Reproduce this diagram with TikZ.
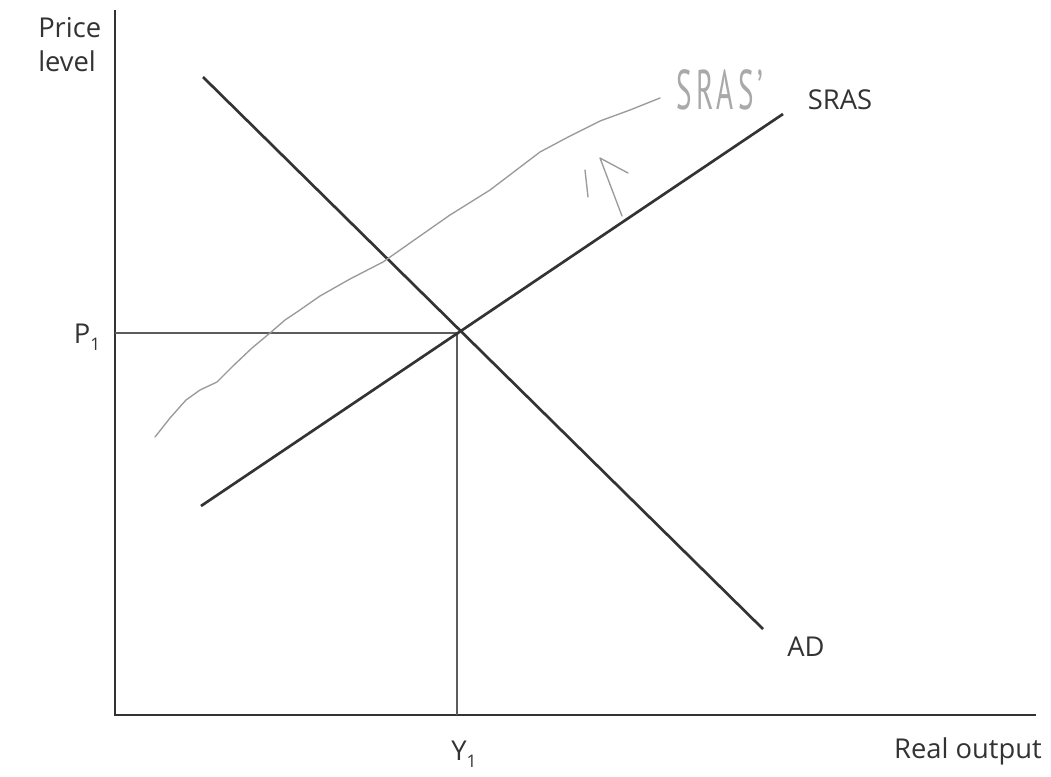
\documentclass[tikz,border=0pt]{standalone}
\usepackage{fontspec}
\setmainfont{Open Sans}
\newfontfamily\handfont{PT Sans}
\definecolor{ink}{HTML}{333333}
\definecolor{pencil}{HTML}{9A9A9A}
\newcommand{\lowsub}[1]{\raisebox{-0.45ex}{\fontsize{13}{13}\selectfont #1}}
\begin{document}
\begin{tikzpicture}[x=0.75pt,y=-0.75pt,
  axis/.style={draw=ink,line width=2.2pt},
  curve/.style={draw=ink,line width=2pt},
  guide/.style={draw=ink!80,line width=1.2pt},
  hand/.style={draw=pencil,line width=1pt,line cap=round,line join=round},
  lbl/.style={text=ink,font=\fontsize{20.5}{26}\selectfont,inner sep=0pt}]
\useasboundingbox (0,0) rectangle (1051,776);
\fill[white] (0,0) rectangle (1051,776);
% axes
\coordinate (O) at (115,715);
\coordinate (ytop) at (115,10);
\coordinate (xend) at (1036,715);
\draw[axis] (ytop) -- (O) -- (xend);
% curves
\coordinate (ad1) at (203,77);
\coordinate (ad2) at (763,629);
\coordinate (s1) at (201,506);
\coordinate (s2) at (783,114);
\coordinate (E) at (457,333);
\coordinate (p1ax) at (115,333);
\coordinate (y1ax) at (457,715);
\draw[guide] (p1ax) -- (E) -- (y1ax);
\draw[curve] (ad1) -- (ad2);
\draw[curve] (s1) -- (s2);
% hand-drawn SRAS'
\draw[hand] (155,437) -- (170,418) -- (186,400) -- (200,390) -- (217,382) -- (233,366) -- (252,348) -- (270,333) -- (285,320) -- (297,312) -- (320,296) -- (350,279) -- (383,262) -- (410,243) -- (450,215) -- (490,190) -- (540,152) -- (570,136) -- (600,121) -- (630,110) -- (660,98);
\coordinate (ar0) at (622,216);
\coordinate (ar1) at (600,158);
\coordinate (ar2) at (628,173);
\coordinate (ar3) at (585,170);
\coordinate (ar4) at (588,197);
\draw[hand] (ar0) -- (ar1) -- (ar2);
\draw[hand] (ar3) -- (ar4);
\node[text=pencil!85,inner sep=0pt] (srasp) at (720,90) {\scalebox{0.52}[1]{\handfont\fontsize{42}{42}\selectfont\addfontfeature{LetterSpace=14}SRAS\textquoteright}};
% labels
\node[lbl,anchor=north west,align=left] (ylab) at (38,17) {Price\\level};
\node[lbl] (p1) at (87,337) {P\lowsub{1}};
\node[lbl] (y1) at (464,754) {Y\lowsub{1}};
\node[lbl] (xlab) at (968,751) {Real output};
\node[lbl] (sras) at (840,100) {SRAS};
\node[lbl] (ad) at (806,647) {AD};
\end{tikzpicture}
\end{document}
